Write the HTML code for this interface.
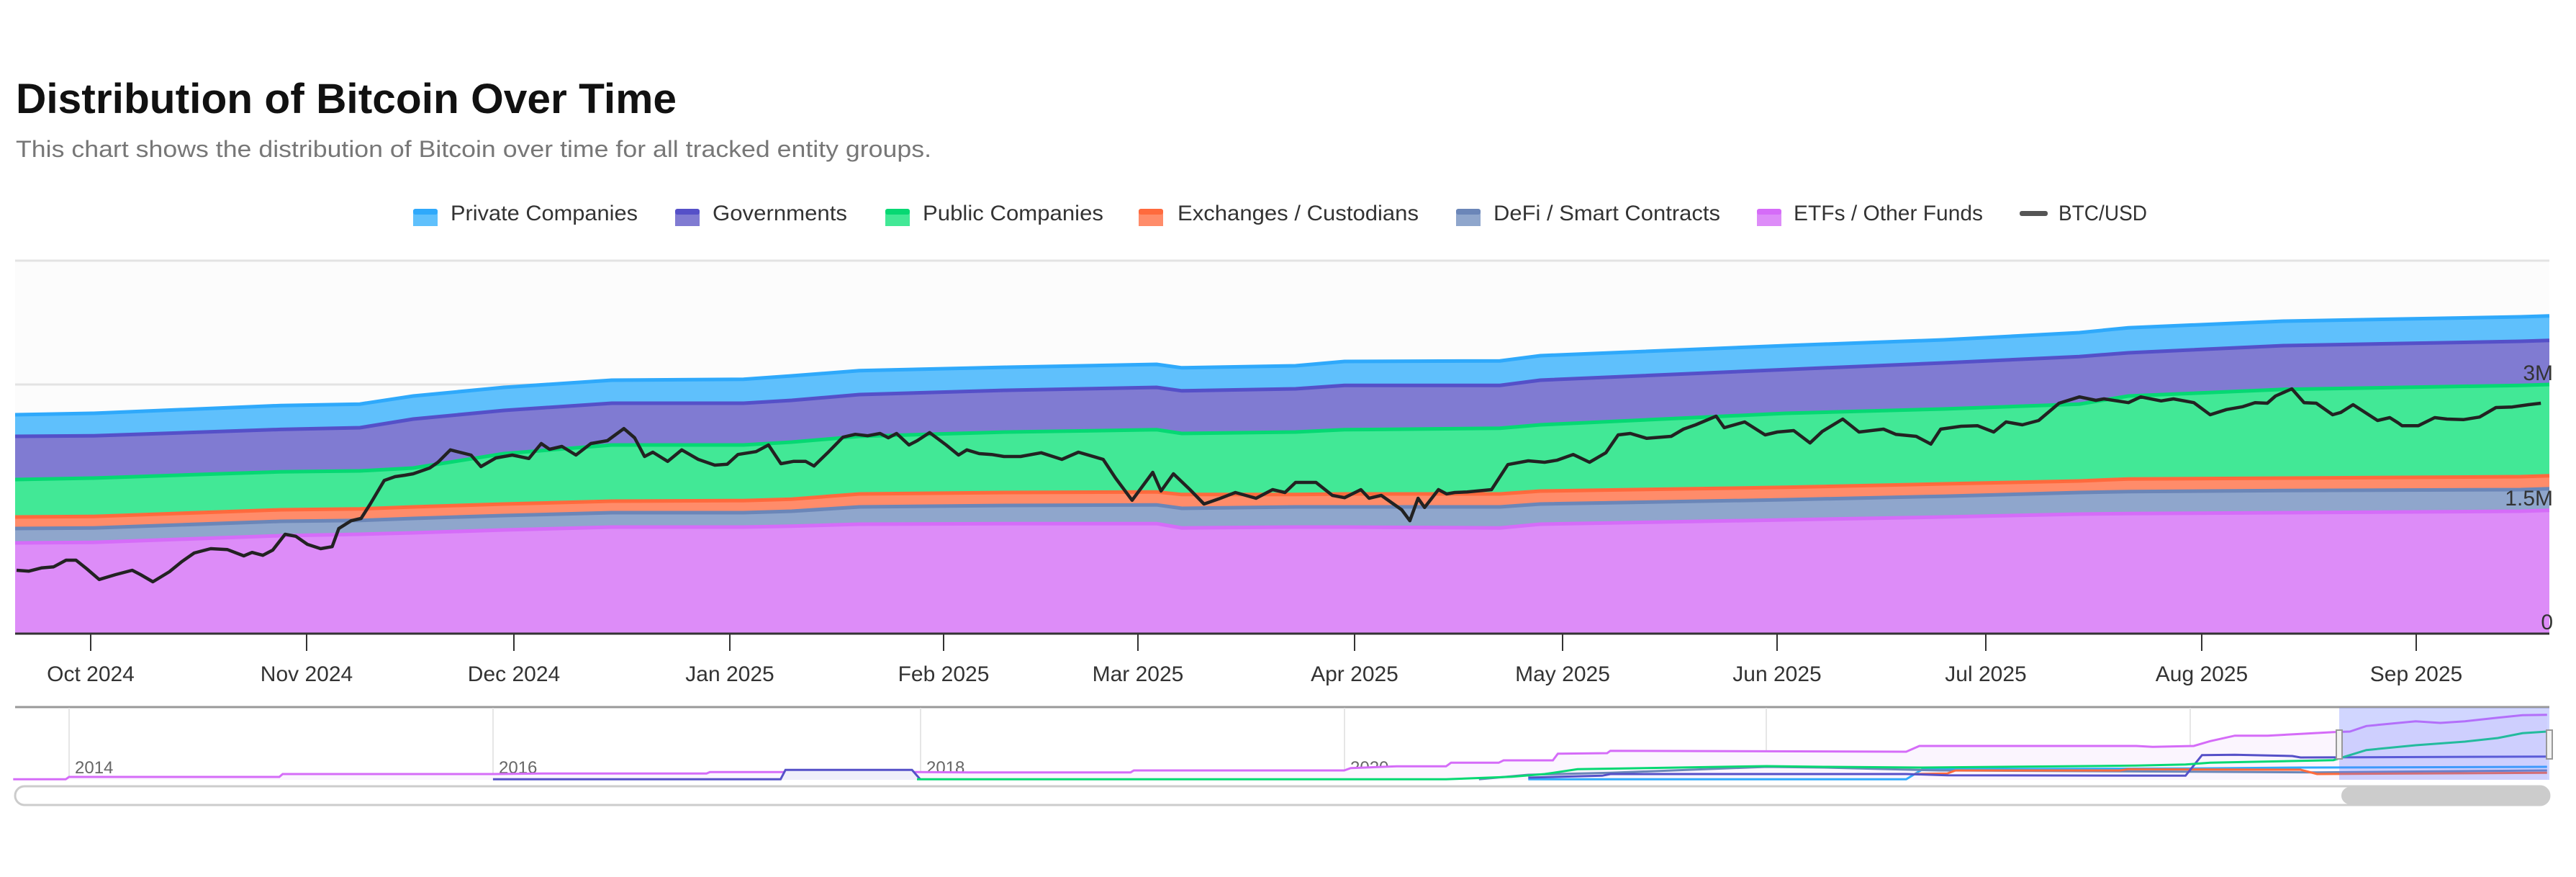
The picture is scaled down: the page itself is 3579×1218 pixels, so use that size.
<!DOCTYPE html>
<html><head><meta charset="utf-8"><style>
html,body{margin:0;padding:0;background:#fff;}
svg{display:block;font-family:"Liberation Sans",sans-serif;}
</style></head><body>
<svg id="s" width="3579" height="1218" viewBox="0 0 3579 1218" xmlns="http://www.w3.org/2000/svg">
<text x="22" y="157" font-size="58" font-weight="bold" fill="#111" textLength="918" lengthAdjust="spacingAndGlyphs">Distribution of Bitcoin Over Time</text>
<text x="22" y="218" font-size="32" fill="#777" textLength="1272" lengthAdjust="spacingAndGlyphs">This chart shows the distribution of Bitcoin over time for all tracked entity groups.</text>
<g font-size="30" fill="#333">
<rect x="574" y="292" width="34" height="22" fill="#5fc0fc"/><rect x="574" y="290" width="34" height="8" rx="3" fill="#2fa9fb"/>
<text x="626" y="306" textLength="260" lengthAdjust="spacingAndGlyphs">Private Companies</text>
<rect x="938" y="292" width="34" height="22" fill="#807bd2"/><rect x="938" y="290" width="34" height="8" rx="3" fill="#5550c8"/>
<text x="990" y="306" textLength="187" lengthAdjust="spacingAndGlyphs">Governments</text>
<rect x="1230" y="292" width="34" height="22" fill="#42e896"/><rect x="1230" y="290" width="34" height="8" rx="3" fill="#06d873"/>
<text x="1282" y="306" textLength="251" lengthAdjust="spacingAndGlyphs">Public Companies</text>
<rect x="1582" y="292" width="34" height="22" fill="#ff8c6a"/><rect x="1582" y="290" width="34" height="8" rx="3" fill="#ff6a3d"/>
<text x="1636" y="306" textLength="335" lengthAdjust="spacingAndGlyphs">Exchanges / Custodians</text>
<rect x="2023" y="292" width="34" height="22" fill="#8fa6cc"/><rect x="2023" y="290" width="34" height="8" rx="3" fill="#6b86b8"/>
<text x="2075" y="306" textLength="315" lengthAdjust="spacingAndGlyphs">DeFi / Smart Contracts</text>
<rect x="2441" y="292" width="34" height="22" fill="#dd8cf8"/><rect x="2441" y="290" width="34" height="8" rx="3" fill="#d56cf8"/>
<text x="2492" y="306" textLength="263" lengthAdjust="spacingAndGlyphs">ETFs / Other Funds</text>
<rect x="2806" y="293" width="39" height="7" rx="3" fill="#555"/>
<text x="2860" y="306" textLength="123" lengthAdjust="spacingAndGlyphs">BTC/USD</text>
</g>
<rect x="21" y="362" width="3521" height="518" fill="#fcfcfc"/>
<line x1="21" y1="362" x2="3542" y2="362" stroke="#e3e3e3" stroke-width="3"/>
<line x1="21" y1="534" x2="3542" y2="534" stroke="#e3e3e3" stroke-width="3"/>
<g id="areas"></g>
<g id="btc"></g>
<line x1="21" y1="880" x2="3542" y2="880" stroke="#333" stroke-width="3"/>
<g id="ticks" font-size="30" fill="#333" text-anchor="middle"></g>
<g font-size="30" fill="#333" text-anchor="end">
<text x="3547" y="528">3M</text><text x="3547" y="702">1.5M</text><text x="3547" y="874">0</text>
</g>
<line x1="21" y1="982" x2="3542" y2="982" stroke="#999" stroke-width="3"/>
<g id="navgrid" font-size="24" fill="#666"></g>
<g id="nav"></g>
<rect x="3250" y="983" width="292" height="100" fill="rgba(102,120,255,0.3)"/>
<rect x="3246" y="1014" width="8" height="40" fill="#f2f2f2" stroke="#999" stroke-width="2"/>
<rect x="3538" y="1014" width="8" height="40" fill="#f2f2f2" stroke="#999" stroke-width="2"/>
<rect x="21" y="1092" width="3521" height="26" rx="13" fill="#fff" stroke="#ccc" stroke-width="3"/>
<rect x="3253" y="1093" width="289" height="24" rx="12" fill="#ccc"/>
</svg>
<script>
const s=document.getElementById('s');const NS='http://www.w3.org/2000/svg';
function el(p,t,a){const e=document.createElementNS(NS,t);for(const k in a)e.setAttribute(k,a[k]);p.appendChild(e);return e;}
// x(full), tops: private,gov,green,orange,slate,purple in zoom units
const A=[[21,585,660,810,940,980,1030],[130,580,658,805,938,978,1028],[390,553,636,783,915,955,1005],[500,548,630,780,912,952,1000],[574,520,600,770,905,945,995],[700,490,570,720,895,935,985],[850,465,545,690,885,925,975],[1033,462,545,690,883,925,975],[1100,450,535,680,878,920,972],[1194,432,515,660,860,905,965],[1400,420,500,645,855,900,963],[1607,410,490,637,853,898,963],[1642,422,502,650,862,910,978],[1800,415,495,645,862,905,975],[1868,400,483,637,860,905,975],[2084,398,483,632,860,905,978],[2140,380,465,620,850,895,965],[2481,345,428,580,837,880,950],[2700,325,405,565,825,868,940],[2889,300,383,548,815,855,930],[2957,283,370,520,808,852,928],[3173,260,345,497,805,848,925],[3502,245,330,483,800,845,920],[3542,242,327,480,797,842,917]];
const Y=z=>z/2.5+340;
const fills=['#5fc0fc','#807bd2','#42e896','#ff8c6a','#8fa6cc','#dd8cf8'];
const lines=['#2fa9fb','#5550c8','#06d873','#ff6a3d','#6b86b8','#d56cf8'];
const ag=document.getElementById('areas');
for(let i=0;i<6;i++){
 let top=A.map(r=>r[0]+','+Y(r[i+1]).toFixed(1));
 let d='M'+top.join(' L')+' L3542,880 L21,880 Z';
 el(ag,'path',{d:d,fill:fills[i]});
}
for(let i=0;i<6;i++){
 el(ag,'polyline',{points:A.map(r=>r[0]+','+(Y(r[i+1])+2).toFixed(1)).join(' '),fill:'none',stroke:lines[i],'stroke-width':5});
}
const B1=[[20,1130],[35,1133],[50,1122],[65,1118],[80,1095],[92,1095],[105,1125],[120,1162],[140,1145],[160,1130],[170,1145],[185,1170],[205,1135],[220,1100],[235,1070],[255,1055],[275,1058],[295,1080],[305,1068],[318,1078],[330,1060],[345,1005],[358,1012],[372,1040],[388,1055],[402,1048],[410,985],[425,958],[437,950],[448,900],[465,818],[478,805],[490,800],[500,795],[520,775],[530,755],[545,712],[570,730],[582,770],[600,740],[620,730],[640,742],[655,690],[665,710],[680,700],[697,730],[715,690],[735,680],[755,638],[768,670],[780,735],[790,720],[808,752],[825,712],[845,745],[865,765],[880,762],[893,728],[915,718],[930,695],[945,760],[960,752],[975,752],[985,768],[1003,718],[1020,668],[1035,658],[1050,663],[1065,655],[1075,670],[1085,655],[1100,695],[1110,680],[1125,652],[1145,695],[1160,730],[1170,712],[1185,725],[1200,728],[1215,735],[1235,735],[1260,722],[1285,745],[1305,720],[1335,745],[1350,810],[1370,887],[1395,790],[1405,855],[1420,795],[1440,850],[1457,900],[1475,882],[1495,860],[1520,880],[1540,850],[1555,860]];
const B2=[[0,825],[25,825],[45,870],[60,878],[80,850],[90,880],[105,870],[120,900],[130,920],[140,958],[150,880],[158,912],[175,850],[185,865],[195,860],[210,858],[240,850],[260,763],[285,750],[305,755],[320,748],[340,728],[360,755],[380,722],[395,660],[410,655],[430,672],[460,665],[475,640],[490,625],[515,595],[525,635],[550,615],[575,660],[590,650],[610,645],[630,688],[645,648],[670,605],[690,650],[720,640],[735,658],[760,665],[778,692],[790,640],[815,630],[835,628],[855,650],[870,615],[890,625],[910,610],[935,550],[960,528],[980,540],[990,535],[1020,548],[1035,528],[1060,542],[1075,535],[1100,548],[1120,590],[1140,572],[1160,562],[1175,548],[1190,550],[1200,525],[1220,500],[1235,548],[1250,550],[1270,590],[1280,582],[1295,555],[1325,610],[1340,600],[1350,618],[1355,628],[1375,628],[1395,600],[1410,605],[1430,607],[1450,598],[1470,565],[1490,563],[1510,555],[1525,550]];
let pts=B1.map(p=>(p[0]/0.871).toFixed(1)+','+Y(p[1]).toFixed(1)).concat(B2.map(p=>(1800+p[0]/0.8814).toFixed(1)+','+Y(p[1]).toFixed(1)));
el(document.getElementById('btc'),'polyline',{points:pts.join(' '),fill:'none',stroke:'#222','stroke-width':4.5,'stroke-linejoin':'round'});
const T=[[126,'Oct 2024'],[426,'Nov 2024'],[714,'Dec 2024'],[1014,'Jan 2025'],[1311,'Feb 2025'],[1581,'Mar 2025'],[1882,'Apr 2025'],[2171,'May 2025'],[2469,'Jun 2025'],[2759,'Jul 2025'],[3059,'Aug 2025'],[3357,'Sep 2025']];
const tg=document.getElementById('ticks');
T.forEach(t=>{el(tg,'line',{x1:t[0],y1:880,x2:t[0],y2:904,stroke:'#333','stroke-width':2});const e=el(tg,'text',{x:t[0],y:946});e.textContent=t[1];});
const ng=document.getElementById('navgrid');
[[96,'2014'],[685,'2016'],[1279,'2018'],[1868,'2020'],[2454,'2022'],[3043,'2024']].forEach(t=>{el(ng,'line',{x1:t[0],y1:983,x2:t[0],y2:1083,stroke:'#e6e6e6','stroke-width':2});const e=el(ng,'text',{x:t[0]+8,y:1074});e.textContent=t[1];});
const NX=x=>x/0.438, NY=y=>y/3+960;
const nav=document.getElementById('nav');
function nl(P,c,fill){const p=P.map(q=>NX(q[0]).toFixed(1)+','+NY(q[1]).toFixed(1));
 if(fill){el(nav,'path',{d:'M'+p.join(' L')+' L'+NX(P[P.length-1][0]).toFixed(1)+',1083 L'+NX(P[0][0]).toFixed(1)+',1083 Z',fill:fill});}
 el(nav,'polyline',{points:p.join(' '),fill:'none',stroke:c,'stroke-width':3});}
nl([[8,367],[40,367],[42,357],[170,357],[172,345],[300,345],[330,343],[430,343],[432,337],[560,337],[590,338],[688,338],[690,330],[818,330],[822,320],[850,313],[880,313],[883,298],[912,298],[915,288],[945,288],[948,260],[978,258],[980,248],[1160,252],[1168,228],[1300,228],[1310,232],[1335,228],[1345,208],[1360,185],[1380,185],[1400,178],[1420,170],[1430,168],[1440,145],[1470,125],[1485,132],[1500,125],[1520,110],[1535,100],[1550,98]],'#d56cf8','#fbf5fe');
nl([[300,367],[475,367],[478,328],[555,328],[560,367]],'#5550c8','#efeefa');
nl([[930,367],[1160,367],[1170,325],[1330,322],[1400,318],[1550,315]],'#2fa9fb');
nl([[900,367],[930,348],[980,340],[1075,315],[1110,318],[1180,330],[1330,335],[1410,338],[1550,330]],'#6b86b8');
nl([[1165,345],[1185,343],[1190,330],[1290,330],[1295,325],[1400,327],[1410,345],[1550,340]],'#ff6a3d');
nl([[930,360],[975,352],[980,345],[1160,345],[1185,350],[1330,352],[1340,266],[1360,265],[1395,270],[1400,276],[1550,272]],'#5550c8');
nl([[558,367],[880,367],[920,356],[940,345],[960,325],[1075,312],[1110,315],[1170,318],[1300,310],[1330,305],[1345,298],[1420,287],[1440,245],[1470,225],[1500,210],[1520,195],[1535,175],[1550,168]],'#06d873');
</script>
</body></html>
